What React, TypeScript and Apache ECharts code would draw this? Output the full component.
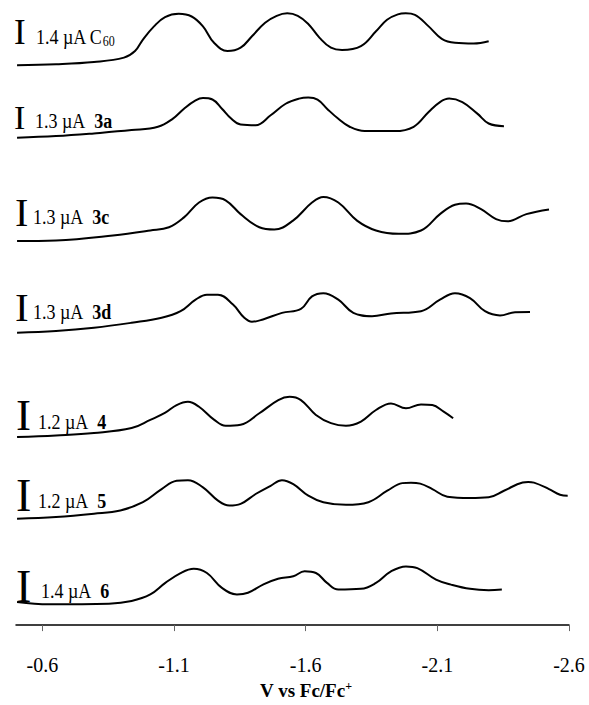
import React, { useEffect, useRef } from "react";
import * as echarts from "echarts";

// ---------- data ----------
const compounds = ["C60", "3a", "3c", "3d", "4", "5", "6"];
const scaleCurrents = ["1.4", "1.3", "1.3", "1.3", "1.2", "1.2", "1.4"];
const tickValues = [-0.6, -1.1, -1.6, -2.1, -2.6];
// vertical offsets of each trace (a.u.)
const traceOffsets = [56.67, 49.34, 38.87, 29.6, 19.04, 10.77, 2.34];

// [potential V vs Fc/Fc+, current relative to start (a.u.)]
const traceC60 = [
  [-0.504, 0], [-0.652, 0.1], [-0.796, 0.33], [-0.91, 0.77], [-0.952, 1.43], [-0.982, 2.6],
  [-1.024, 3.93], [-1.066, 4.87], [-1.118, 5.2], [-1.167, 4.93], [-1.21, 3.93], [-1.252, 2.27],
  [-1.303, 1.43], [-1.353, 1.77], [-1.396, 2.93], [-1.446, 4.3], [-1.49, 5.0], [-1.53, 5.25],
  [-1.57, 5.0], [-1.609, 4.2], [-1.653, 2.77], [-1.696, 1.77], [-1.738, 1.53], [-1.81, 1.93],
  [-1.867, 3.43], [-1.909, 4.6], [-1.95, 5.15], [-1.98, 5.25], [-2.015, 5.1], [-2.067, 3.93],
  [-2.117, 2.67], [-2.167, 2.27], [-2.238, 2.2], [-2.295, 2.43],
];
const trace3a = [
  [-0.504, 0], [-0.652, 0.16], [-0.796, 0.43], [-0.939, 0.76], [-1.039, 1.1], [-1.096, 1.93],
  [-1.138, 2.93], [-1.182, 3.76], [-1.21, 4.0], [-1.246, 3.86], [-1.282, 2.93], [-1.317, 1.93],
  [-1.353, 1.33], [-1.41, 1.26], [-1.467, 2.26], [-1.524, 3.43], [-1.575, 3.95], [-1.61, 4.05],
  [-1.645, 3.85], [-1.681, 2.93], [-1.723, 1.93], [-1.767, 1.1], [-1.824, 0.66], [-1.938, 0.66],
  [-2.01, 1.1], [-2.067, 2.6], [-2.11, 3.6], [-2.145, 3.95], [-2.195, 3.6], [-2.252, 2.43],
  [-2.295, 1.43], [-2.353, 1.16],
];
const trace3c = [
  [-0.504, 0], [-0.652, 0.07], [-0.868, 0.57], [-1.01, 1.07], [-1.081, 1.4], [-1.138, 2.4],
  [-1.195, 3.9], [-1.246, 4.4], [-1.296, 4.13], [-1.353, 2.73], [-1.424, 1.4], [-1.481, 1.17],
  [-1.552, 2.07], [-1.624, 3.9], [-1.667, 4.47], [-1.724, 3.9], [-1.795, 2.07], [-1.867, 1.07],
  [-1.953, 0.73], [-2.038, 1.07], [-2.11, 2.73], [-2.167, 3.67], [-2.209, 3.8], [-2.266, 3.23],
  [-2.323, 2.23], [-2.367, 2.0], [-2.438, 2.73], [-2.524, 3.2],
];
const trace3d = [
  [-0.504, 0], [-0.652, 0.17], [-0.796, 0.5], [-0.939, 1.0], [-1.053, 1.5], [-1.125, 2.17],
  [-1.182, 3.34], [-1.225, 3.84], [-1.267, 3.84], [-1.324, 2.84], [-1.367, 1.5], [-1.396, 1.1],
  [-1.438, 1.34], [-1.51, 2.0], [-1.582, 2.4], [-1.624, 3.67], [-1.667, 4.0], [-1.724, 3.34],
  [-1.781, 2.0], [-1.852, 1.67], [-1.924, 1.94], [-2.038, 2.17], [-2.11, 3.34], [-2.167, 4.0],
  [-2.224, 3.5], [-2.281, 2.17], [-2.338, 1.74], [-2.395, 2.07], [-2.452, 2.1],
];
const trace4 = [
  [-0.504, 0], [-0.652, 0.16], [-0.796, 0.4], [-0.939, 0.9], [-1.01, 1.73], [-1.067, 2.46],
  [-1.11, 3.23], [-1.153, 3.56], [-1.195, 3.06], [-1.253, 1.73], [-1.296, 1.13], [-1.353, 1.23],
  [-1.424, 2.4], [-1.496, 3.73], [-1.539, 4.06], [-1.582, 3.73], [-1.639, 2.23], [-1.696, 1.4],
  [-1.753, 1.13], [-1.81, 1.56], [-1.867, 2.73], [-1.924, 3.4], [-1.981, 2.9], [-2.038, 3.3],
  [-2.081, 3.23], [-2.124, 2.56], [-2.16, 1.9],
];
const trace5 = [
  [-0.504, 0], [-0.652, 0.17], [-0.796, 0.5], [-0.896, 0.83], [-0.982, 1.67], [-1.053, 3.0],
  [-1.11, 3.83], [-1.153, 3.9], [-1.21, 3.17], [-1.267, 1.83], [-1.31, 1.33], [-1.353, 1.5],
  [-1.41, 2.5], [-1.467, 3.33], [-1.51, 3.9], [-1.553, 3.5], [-1.61, 2.33], [-1.667, 1.67],
  [-1.753, 1.4], [-1.838, 1.67], [-1.91, 2.83], [-1.967, 3.6], [-2.0, 3.65], [-2.035, 3.55],
  [-2.081, 3.0], [-2.138, 2.23], [-2.224, 2.1], [-2.295, 2.17], [-2.353, 2.83], [-2.424, 3.67],
  [-2.445, 3.72], [-2.467, 3.65], [-2.524, 3.0], [-2.566, 2.43], [-2.595, 2.33],
];
const trace6 = [
  [-0.504, 0], [-0.625, -0.24], [-0.853, -0.17], [-0.939, 0.1], [-1.01, 0.76], [-1.067, 1.93],
  [-1.125, 2.93], [-1.175, 3.36], [-1.225, 2.93], [-1.282, 1.43], [-1.339, 0.76], [-1.381, 0.93],
  [-1.438, 1.76], [-1.495, 2.36], [-1.553, 2.6], [-1.596, 3.1], [-1.639, 2.93], [-1.681, 1.93],
  [-1.724, 1.26], [-1.81, 1.33], [-1.867, 1.93], [-1.924, 3.1], [-1.981, 3.6], [-2.024, 3.43],
  [-2.095, 2.26], [-2.152, 1.76], [-2.224, 1.33], [-2.295, 1.2], [-2.345, 1.26],
];
const traces = [traceC60, trace3a, trace3c, trace3d, trace4, trace5, trace6];

// ---------- layout (pixels) ----------
const FONT = '"Liberation Serif", "Times New Roman", serif';
const barX = [14, 14, 15, 15, 16, 16, 16];
const barCenterY = [32, 117.5, 212, 306.7, 415.3, 495, 586.7];
const barFontSize = [35, 34, 40, 41, 45, 46, 46];
const labelX = [36, 35, 33, 33, 38, 38, 41];
const labelCenterY = [37, 120.8, 217.5, 311.8, 422.5, 501.5, 591.5];

export default function App() {
  const ref = useRef<HTMLDivElement>(null);

  useEffect(() => {
    if (!ref.current) return;
    const chart = echarts.init(ref.current, undefined, { renderer: "svg" });

    const series = traces.map((tr, i) => ({
      type: "line",
      name: compounds[i],
      data: tr.map(([v, c]) => [v, traceOffsets[i] + c]),
      symbol: "none",
      smooth: 0.4,
      lineStyle: { color: "#000", width: 2 },
      silent: true,
    }));

    const graphic: any[] = [];
    compounds.forEach((name, i) => {
      graphic.push({
        type: "text",
        x: barX[i],
        y: barCenterY[i],
        style: {
          text: "I",
          font: `${barFontSize[i]}px ${FONT}`,
          fill: "#000",
          align: "left",
          verticalAlign: "middle",
          textAlign: "left",
          textVerticalAlign: "middle",
        },
      });
      const isC60 = name === "C60";
      const text = isC60
        ? `{n|${scaleCurrents[i]} µA C}{s|60}`
        : `{n|${scaleCurrents[i]} µA  }{b|${name}}`;
      graphic.push({
        type: "text",
        x: labelX[i],
        y: labelCenterY[i],
        scaleY: 1.15,
        style: {
          text,
          font: `18px ${FONT}`,
          fill: "#000",
          align: "left",
          verticalAlign: "middle",
          textAlign: "left",
          textVerticalAlign: "middle",
          rich: {
            n: { fontSize: 18, fontFamily: FONT, color: "#000", lineHeight: 20 },
            b: { fontSize: 18, fontFamily: FONT, fontWeight: "bold", color: "#000", lineHeight: 20 },
            s: { fontSize: 12, fontFamily: FONT, color: "#000", lineHeight: 10, verticalAlign: "bottom" },
          },
        },
      });
    });

    chart.setOption({
      animation: false,
      backgroundColor: "#fff",
      grid: { left: 16, right: 20, top: 0, bottom: 72.3 },
      xAxis: {
        type: "value",
        inverse: true,
        min: -2.6,
        max: -0.5,
        splitLine: { show: false },
        axisLine: { show: true, onZero: false, lineStyle: { color: "#000", width: 1.5 } },
        axisTick: { show: true, customValues: tickValues, length: 6, lineStyle: { color: "#666", width: 1 } },
        axisLabel: {
          customValues: tickValues,
          margin: 30,
          fontSize: 20,
          fontFamily: FONT,
          color: "#000",
          formatter: (v: number) => v.toFixed(1),
        },
        name: "V vs Fc/Fc{sup|+}",
        nameLocation: "middle",
        nameGap: 52,
        nameTextStyle: {
          fontSize: 19,
          fontFamily: FONT,
          fontWeight: "bold",
          color: "#000",
          lineHeight: 20,
          padding: [0, 0, 0, 27],
          rich: {
            sup: { fontSize: 12, fontFamily: FONT, fontWeight: "bold", color: "#000", lineHeight: 10, verticalAlign: "top" },
          },
        },
      },
      yAxis: { type: "value", show: false, min: 0, max: 63.27 },
      series,
      graphic,
    });

    return () => chart.dispose();
  }, []);

  return (
    <div
      ref={ref}
      style={{ position: "absolute", left: 0, top: 0, width: 589, height: 705, background: "#fff" }}
    />
  );
}
